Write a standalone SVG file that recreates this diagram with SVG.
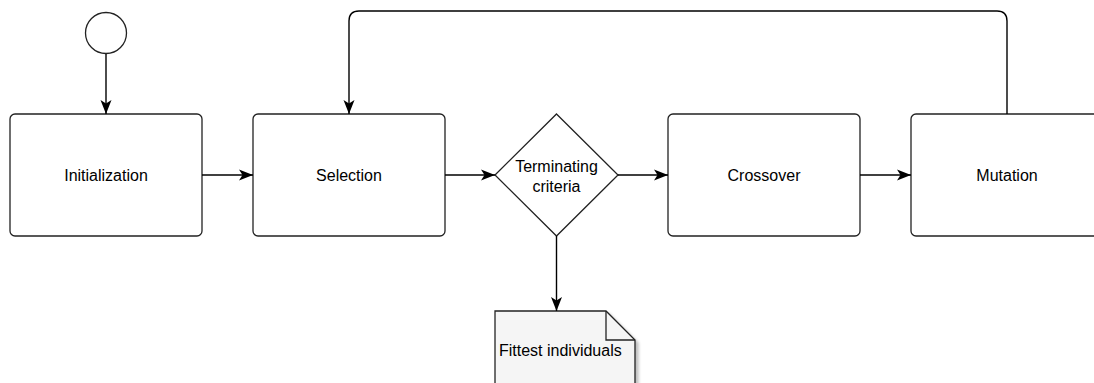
<svg xmlns="http://www.w3.org/2000/svg" width="1094" height="383" viewBox="0 0 1094 383">
<style>
.box{fill:#fff;stroke:#222;stroke-width:1.3}
.lbl{font-family:"Liberation Sans",Arial,sans-serif;font-size:16px;fill:#000;text-anchor:middle}
.edge{fill:none;stroke:#000;stroke-width:1.4}
</style>
<defs>
<marker id="arr" viewBox="0 0 14 12" refX="14" refY="6" markerWidth="14" markerHeight="12" markerUnits="userSpaceOnUse" orient="auto">
<path d="M0,0.5 L14,6 L0,11.5 L3.5,6 Z" fill="#000"/>
</marker>
<filter id="sh" x="-10%" y="-10%" width="130%" height="130%">
<feGaussianBlur in="SourceAlpha" stdDeviation="1.5"/>
<feOffset dx="3" dy="3"/>
<feComponentTransfer><feFuncA type="linear" slope="0.25"/></feComponentTransfer>
<feMerge><feMergeNode/><feMergeNode in="SourceGraphic"/></feMerge>
</filter>
</defs>
<rect width="1094" height="383" fill="#fff"/>
<g id="start"><circle cx="106" cy="33" r="20.5" class="box"/></g>
<g id="init"><rect x="10" y="114" width="192" height="122" rx="5" class="box"/><text x="106" y="181" class="lbl">Initialization</text></g>
<g id="selection"><rect x="253" y="114" width="192" height="122" rx="5" class="box"/><text x="349" y="181" class="lbl">Selection</text></g>
<g id="criteria"><polygon points="556.5,114 618,175 556.5,236 495,175" class="box"/><text x="556.5" y="172" class="lbl">Terminating</text><text x="556.5" y="192" class="lbl">criteria</text></g>
<g id="crossover"><rect x="668" y="114" width="192" height="122" rx="5" class="box"/><text x="764" y="181" class="lbl">Crossover</text></g>
<g id="mutation"><rect x="911" y="114" width="192" height="122" rx="5" class="box"/><text x="1007" y="181" class="lbl">Mutation</text></g>
<g id="fittest"><path d="M495,311 H606 L635,340 V400 H495 Z" fill="#f5f5f5" stroke="#222" stroke-width="1.3" filter="url(#sh)"/><path d="M606,311 V340 H635" fill="none" stroke="#222" stroke-width="1.3"/><text x="499" y="356" class="lbl" style="text-anchor:start">Fittest individuals</text></g>
<g id="connectors">
<path d="M106,54 V114" class="edge" marker-end="url(#arr)"/>
<path d="M202,175 H253" class="edge" marker-end="url(#arr)"/>
<path d="M445,175 H495" class="edge" marker-end="url(#arr)"/>
<path d="M618,175 H668" class="edge" marker-end="url(#arr)"/>
<path d="M860,175 H911" class="edge" marker-end="url(#arr)"/>
<path d="M556.5,236 V311" class="edge" marker-end="url(#arr)"/>
<path d="M1007,114 V21 Q1007,11 997,11 H359 Q349,11 349,21 V114" class="edge" marker-end="url(#arr)"/>
</g>
</svg>
